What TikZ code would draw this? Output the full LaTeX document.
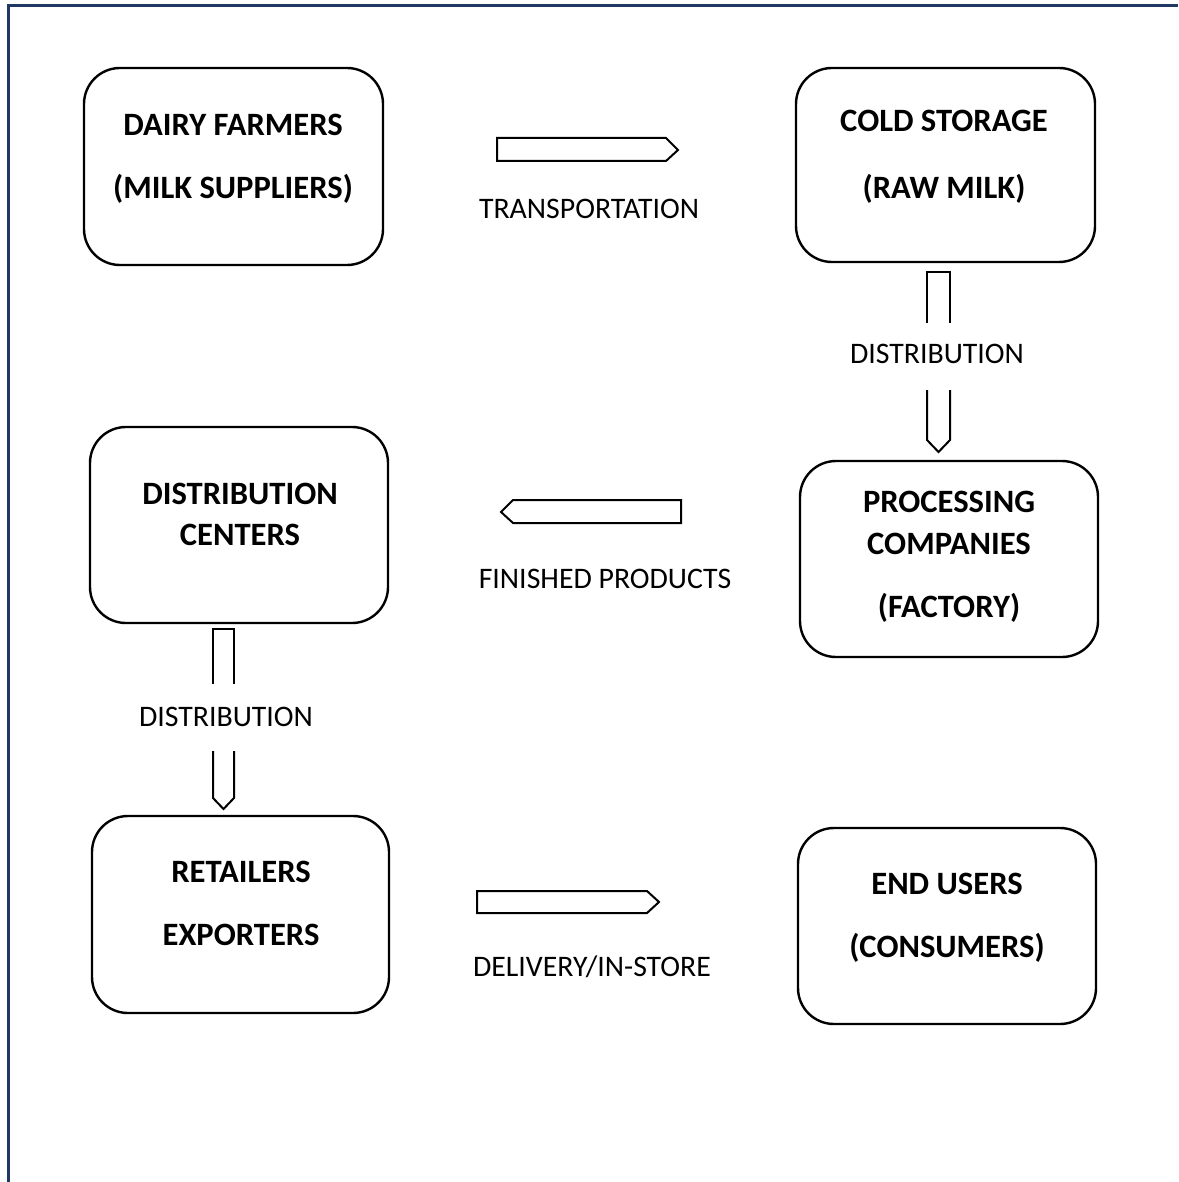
\documentclass[tikz,border=0pt]{standalone}
\usepackage{fontspec}
\setmainfont{Carlito}
\begin{document}
\begin{tikzpicture}[x=1pt,y=-1pt,
  box/.style={draw=black,line width=2.4pt,rounded corners=36pt,inner sep=0pt},
  boxtext/.style={anchor=base,font=\fontsize{32.6}{33}\selectfont\bfseries,inner sep=0pt},
  lbl/.style={anchor=base,font=\fontsize{29.8}{30}\selectfont,inner sep=0pt},
  blk/.style={draw=black,line width=2pt,line join=miter},
  frame/.style={draw=frameblue,line width=3pt}]
\definecolor{frameblue}{HTML}{1F3864}
\useasboundingbox (0,0) rectangle (1178,1182);
% page frame
\draw[frame] (8,1182) -- (8,6) -- (1178,6);
% boxes
\draw[box] (84,68) rectangle (383,265);
\draw[box] (796,68) rectangle (1095,262);
\draw[box] (90,427) rectangle (388,623);
\draw[box] (800,461) rectangle (1098,657);
\draw[box] (92,816) rectangle (389,1013);
\draw[box] (798,828) rectangle (1096,1024);
% box texts
\node[boxtext] (t1a) at (233,136) {DAIRY FARMERS};
\node[boxtext] (t1b) at (233,199) {(MILK SUPPLIERS)};
\node[boxtext] (t2a) at (944,132) {COLD STORAGE};
\node[boxtext] (t2b) at (944,199) {(RAW MILK)};
\node[boxtext] (t3a) at (240,504) {DISTRIBUTION};
\node[boxtext] (t3b) at (240,545) {CENTERS};
\node[boxtext] (t4a) at (949,512) {PROCESSING};
\node[boxtext] (t4b) at (949,554) {COMPANIES};
\node[boxtext] (t4c) at (949,617) {(FACTORY)};
\node[boxtext] (t5a) at (241,882) {RETAILERS};
\node[boxtext] (t5b) at (241,945) {EXPORTERS};
\node[boxtext] (t6a) at (947,894) {END USERS};
\node[boxtext] (t6b) at (947,957) {(CONSUMERS)};
% block arrows
\draw[blk] (497,138) -- (666,138) -- (678,150) -- (666,161) -- (497,161) -- cycle;
\draw[blk] (681,500) -- (513,500) -- (501,512) -- (513,523) -- (681,523) -- cycle;
\draw[blk] (477,891) -- (647,891) -- (659,902) -- (647,913) -- (477,913) -- cycle;
\draw[blk] (927,323) -- (927,272) -- (950,272) -- (950,323);
\draw[blk] (927,390) -- (927,440) -- (938.5,452) -- (950,440) -- (950,390);
\draw[blk] (213,684) -- (213,629) -- (234,629) -- (234,684);
\draw[blk] (213,751) -- (213,798) -- (223.5,809) -- (234,798) -- (234,751);
% labels
\node[lbl] (l1) at (589,219) {TRANSPORTATION};
\node[lbl] (l2) at (937,363) {DISTRIBUTION};
\node[lbl] (l3) at (605,588) {FINISHED PRODUCTS};
\node[lbl] (l4) at (226,726) {DISTRIBUTION};
\node[lbl] (l5) at (592,976) {DELIVERY/IN-STORE};
\end{tikzpicture}
\end{document}
